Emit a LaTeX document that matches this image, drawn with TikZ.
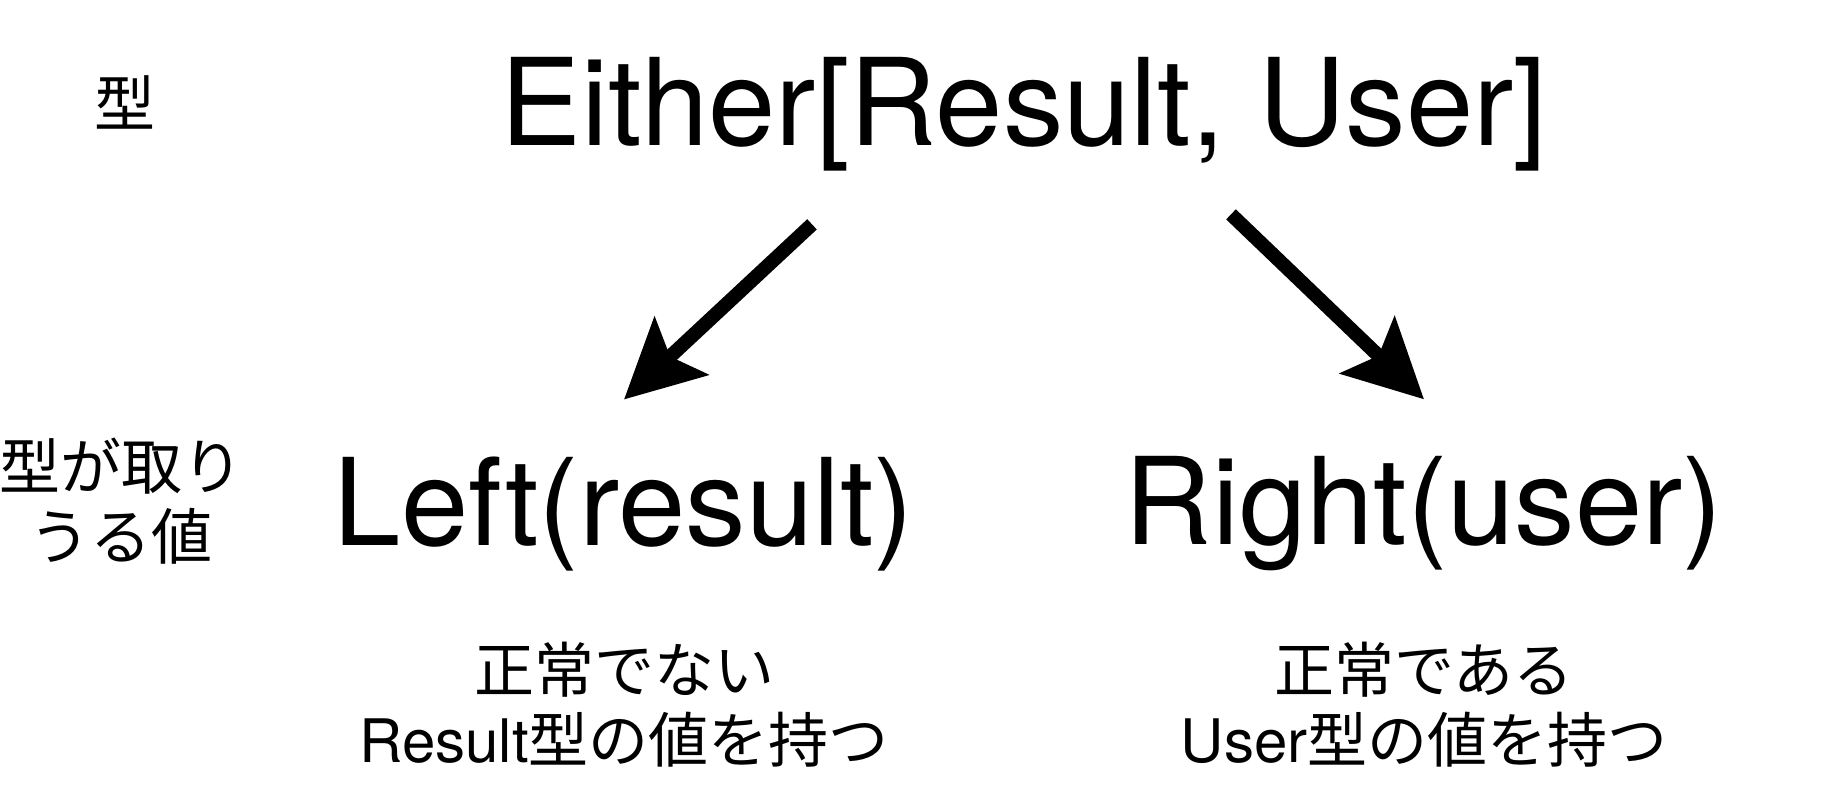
\documentclass[tikz,border=0pt]{standalone}
\usepackage{fontspec}
\setmainfont{TeX Gyre Heros}
\newfontfamily\jp{Noto Sans CJK JP}
\usetikzlibrary{arrows.meta}
\tikzset{
typebox/.style={inner sep=0pt, font=\fontsize{60.5pt}{70pt}\selectfont},
sidetext/.style={inner sep=0pt, align=center, font=\jp\fontsize{30.5pt}{35pt}\selectfont},
notetext/.style={inner sep=0pt, align=center, font=\fontsize{30pt}{35pt}\selectfont},
line/.style={draw, line width=7pt, -{Stealth[length=39pt, width=39pt, inset=7.5pt]}}
}

\begin{document}
\begin{tikzpicture}[x=0.5pt, y=-0.5pt, node distance=200pt]
    \useasboundingbox (0,0) rectangle (1830,805);
    % Place nodes
    \node [typebox] (either) at (1024,114) {Either[Result, User]};
    \node [typebox, below of=either, xshift=-200pt] (left) {Left(result)};
    \node [typebox, below of=either, xshift=200pt] (right) {Right(user)};
    \node [notetext, below of=left, yshift=104.5pt] (leftnote) {{\jp 正常でない}\\Result{\jp 型の値を持つ}};
    \node [notetext, below of=right, yshift=104.5pt] (rightnote) {{\jp 正常である}\\User{\jp 型の値を持つ}};
    \node [sidetext, left of=either, xshift=-249.5pt, yshift=6pt] (typelabel) {型};
    \node [sidetext, left of=left, xshift=-51.5pt, yshift=6.5pt] (valuelabel) {型が取り\\うる値};
    % Draw edges
    \path [line] ([xshift=-106pt, yshift=-26.5pt]either.south) -- ([yshift=28.5pt]left.north);
    \path [line] ([xshift=103.5pt, yshift=-21.5pt]either.south) -- ([yshift=28.5pt]right.north);
\end{tikzpicture}
\end{document}
